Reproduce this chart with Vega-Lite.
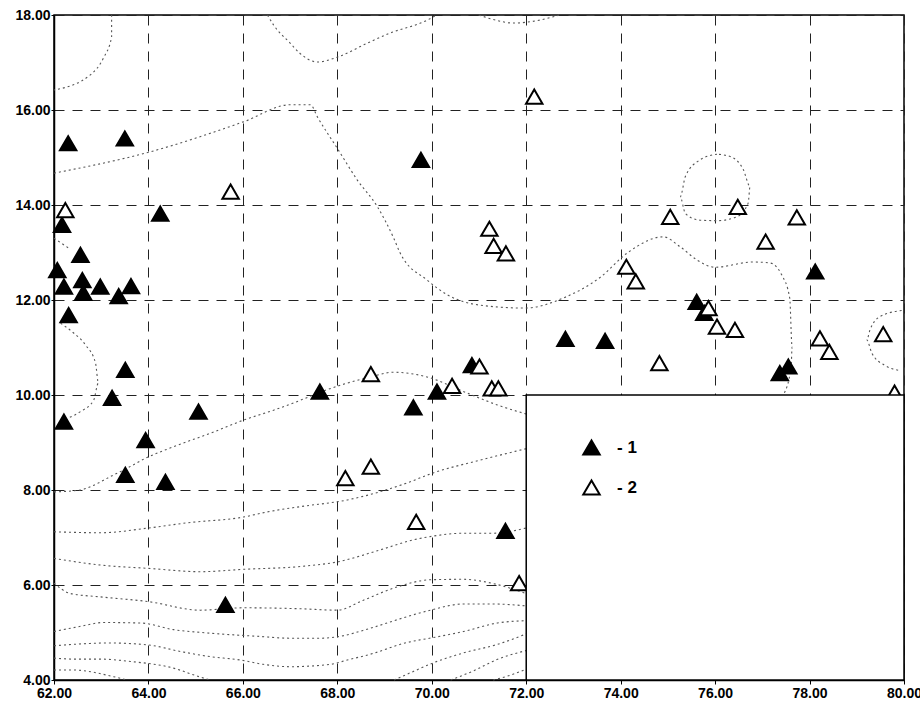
{
  "$schema": "https://vega.github.io/schema/vega-lite/v6.json",
  "width": 850,
  "height": 665,
  "autosize": "none",
  "padding": {"left": 54, "top": 15, "right": 16, "bottom": 21},
  "background": "white",
  "config": {
    "view": {"stroke": "black", "strokeWidth": 1.5},
    "axis": {
      "labelFont": "Liberation Sans",
      "labelFontSize": 14,
      "labelFontWeight": "bold",
      "labelColor": "black",
      "domainColor": "black",
      "domainWidth": 1.5,
      "tickColor": "black",
      "tickSize": 3,
      "grid": true,
      "gridColor": "#222",
      "gridDash": [10, 8],
      "gridWidth": 1,
      "gridOpacity": 1,
      "title": null,
      "labelFlush": false,
      "labelOverlap": false
    }
  },
  "datasets": {
    "pts": [
      {"x": 62.3, "y": 15.3, "s": "1"}, {"x": 63.5, "y": 15.4, "s": "1"}, {"x": 62.17, "y": 13.58, "s": "1"},
      {"x": 64.25, "y": 13.82, "s": "1"}, {"x": 62.56, "y": 12.95, "s": "1"}, {"x": 62.07, "y": 12.63, "s": "1"},
      {"x": 62.21, "y": 12.28, "s": "1"}, {"x": 62.6, "y": 12.42, "s": "1"}, {"x": 62.62, "y": 12.15, "s": "1"},
      {"x": 62.98, "y": 12.28, "s": "1"}, {"x": 63.37, "y": 12.08, "s": "1"}, {"x": 63.63, "y": 12.29, "s": "1"},
      {"x": 62.31, "y": 11.68, "s": "1"}, {"x": 63.51, "y": 10.53, "s": "1"}, {"x": 63.23, "y": 9.94, "s": "1"},
      {"x": 62.21, "y": 9.44, "s": "1"}, {"x": 65.06, "y": 9.65, "s": "1"}, {"x": 63.94, "y": 9.05, "s": "1"},
      {"x": 63.51, "y": 8.32, "s": "1"}, {"x": 64.36, "y": 8.17, "s": "1"}, {"x": 65.63, "y": 5.58, "s": "1"},
      {"x": 67.63, "y": 10.07, "s": "1"}, {"x": 69.61, "y": 9.74, "s": "1"}, {"x": 70.11, "y": 10.07, "s": "1"},
      {"x": 70.85, "y": 10.63, "s": "1"}, {"x": 72.83, "y": 11.18, "s": "1"}, {"x": 73.67, "y": 11.14, "s": "1"},
      {"x": 71.56, "y": 7.14, "s": "1"}, {"x": 69.77, "y": 14.95, "s": "1"}, {"x": 75.61, "y": 11.96, "s": "1"},
      {"x": 75.77, "y": 11.73, "s": "1"}, {"x": 78.12, "y": 12.6, "s": "1"}, {"x": 77.55, "y": 10.6, "s": "1"},
      {"x": 77.37, "y": 10.46, "s": "1"},
      {"x": 62.24, "y": 13.89, "s": "2"}, {"x": 65.74, "y": 14.28, "s": "2"}, {"x": 72.17, "y": 16.28, "s": "2"},
      {"x": 71.22, "y": 13.5, "s": "2"}, {"x": 71.31, "y": 13.14, "s": "2"}, {"x": 71.57, "y": 12.98, "s": "2"},
      {"x": 68.71, "y": 10.44, "s": "2"}, {"x": 70.43, "y": 10.19, "s": "2"}, {"x": 71.01, "y": 10.6, "s": "2"},
      {"x": 71.27, "y": 10.14, "s": "2"}, {"x": 71.41, "y": 10.14, "s": "2"}, {"x": 68.17, "y": 8.25, "s": "2"},
      {"x": 68.71, "y": 8.49, "s": "2"}, {"x": 69.67, "y": 7.33, "s": "2"}, {"x": 71.85, "y": 6.04, "s": "2"},
      {"x": 75.05, "y": 13.75, "s": "2"}, {"x": 76.48, "y": 13.96, "s": "2"}, {"x": 77.73, "y": 13.74, "s": "2"},
      {"x": 77.07, "y": 13.23, "s": "2"}, {"x": 74.12, "y": 12.7, "s": "2"}, {"x": 74.32, "y": 12.39, "s": "2"},
      {"x": 75.86, "y": 11.83, "s": "2"}, {"x": 76.04, "y": 11.44, "s": "2"}, {"x": 76.42, "y": 11.37, "s": "2"},
      {"x": 74.82, "y": 10.67, "s": "2"}, {"x": 78.22, "y": 11.19, "s": "2"}, {"x": 78.42, "y": 10.91, "s": "2"},
      {"x": 79.56, "y": 11.28, "s": "2"}, {"x": 79.8, "y": 10.05, "s": "2"}
    ],
    "iso": [
      {"c": "A", "i": 0, "x": 63.22, "y": 18}, {"c": "A", "i": 1, "x": 63.22, "y": 17.54}, {"c": "A", "i": 2, "x": 63.05, "y": 17.1}, {"c": "A", "i": 3, "x": 62.77, "y": 16.74}, {"c": "A", "i": 4, "x": 62.0, "y": 16.42},
      {"c": "B", "i": 0, "x": 62.0, "y": 14.67}, {"c": "B", "i": 1, "x": 64.04, "y": 15.12}, {"c": "B", "i": 2, "x": 66.01, "y": 15.75}, {"c": "B", "i": 3, "x": 67.0, "y": 16.11}, {"c": "B", "i": 4, "x": 67.43, "y": 16.11}, {"c": "B", "i": 5, "x": 67.58, "y": 15.85}, {"c": "B", "i": 6, "x": 68.02, "y": 15.16}, {"c": "B", "i": 7, "x": 68.42, "y": 14.53}, {"c": "B", "i": 8, "x": 68.85, "y": 13.96}, {"c": "B", "i": 9, "x": 69.19, "y": 13.31}, {"c": "B", "i": 10, "x": 69.33, "y": 12.99}, {"c": "B", "i": 11, "x": 69.9, "y": 12.42}, {"c": "B", "i": 12, "x": 70.33, "y": 12.11}, {"c": "B", "i": 13, "x": 71.03, "y": 11.89}, {"c": "B", "i": 14, "x": 71.98, "y": 11.83}, {"c": "B", "i": 15, "x": 72.78, "y": 12.04}, {"c": "B", "i": 16, "x": 73.57, "y": 12.48}, {"c": "B", "i": 17, "x": 74.14, "y": 12.99}, {"c": "B", "i": 18, "x": 74.9, "y": 13.33}, {"c": "B", "i": 19, "x": 75.26, "y": 13.12}, {"c": "B", "i": 20, "x": 75.62, "y": 12.84}, {"c": "B", "i": 21, "x": 76.0, "y": 12.69}, {"c": "B", "i": 22, "x": 76.8, "y": 12.8}, {"c": "B", "i": 23, "x": 77.16, "y": 12.78}, {"c": "B", "i": 24, "x": 77.41, "y": 12.53}, {"c": "B", "i": 25, "x": 77.58, "y": 12.04}, {"c": "B", "i": 26, "x": 77.63, "y": 11.01}, {"c": "B", "i": 27, "x": 77.61, "y": 10.59}, {"c": "B", "i": 28, "x": 77.44, "y": 10.0},
      {"c": "C", "i": 0, "x": 66.52, "y": 18}, {"c": "C", "i": 1, "x": 66.65, "y": 17.79}, {"c": "C", "i": 2, "x": 67.0, "y": 17.41}, {"c": "C", "i": 3, "x": 67.2, "y": 17.2}, {"c": "C", "i": 4, "x": 67.58, "y": 17.01}, {"c": "C", "i": 5, "x": 68.02, "y": 17.12}, {"c": "C", "i": 6, "x": 68.64, "y": 17.41}, {"c": "C", "i": 7, "x": 69.12, "y": 17.62}, {"c": "C", "i": 8, "x": 69.9, "y": 17.89}, {"c": "C", "i": 9, "x": 70.1, "y": 18},
      {"c": "C2", "i": 0, "x": 71.0, "y": 18}, {"c": "C2", "i": 1, "x": 71.4, "y": 17.88}, {"c": "C2", "i": 2, "x": 71.73, "y": 17.83}, {"c": "C2", "i": 3, "x": 72.1, "y": 17.86}, {"c": "C2", "i": 4, "x": 72.45, "y": 17.93}, {"c": "C2", "i": 5, "x": 72.7, "y": 18},
      {"c": "D", "i": 0, "x": 76.04, "y": 15.07}, {"c": "D", "i": 1, "x": 75.68, "y": 14.95}, {"c": "D", "i": 2, "x": 75.37, "y": 14.6}, {"c": "D", "i": 3, "x": 75.26, "y": 14.17}, {"c": "D", "i": 4, "x": 75.37, "y": 13.82}, {"c": "D", "i": 5, "x": 75.68, "y": 13.68}, {"c": "D", "i": 6, "x": 76.04, "y": 13.67}, {"c": "D", "i": 7, "x": 76.46, "y": 13.75}, {"c": "D", "i": 8, "x": 76.7, "y": 14.04}, {"c": "D", "i": 9, "x": 76.74, "y": 14.39}, {"c": "D", "i": 10, "x": 76.6, "y": 14.74}, {"c": "D", "i": 11, "x": 76.32, "y": 15.02}, {"c": "D", "i": 12, "x": 76.04, "y": 15.07},
      {"c": "E", "i": 0, "x": 79.95, "y": 11.78}, {"c": "E", "i": 1, "x": 79.49, "y": 11.65}, {"c": "E", "i": 2, "x": 79.28, "y": 11.37}, {"c": "E", "i": 3, "x": 79.21, "y": 11.16}, {"c": "E", "i": 4, "x": 79.32, "y": 10.88}, {"c": "E", "i": 5, "x": 79.6, "y": 10.62}, {"c": "E", "i": 6, "x": 79.88, "y": 10.52},
      {"c": "F1", "i": 0, "x": 62.0, "y": 13.3}, {"c": "F1", "i": 1, "x": 62.3, "y": 13.1},
      {"c": "F2", "i": 0, "x": 62.14, "y": 11.51}, {"c": "F2", "i": 1, "x": 62.41, "y": 11.31}, {"c": "F2", "i": 2, "x": 62.67, "y": 11.05}, {"c": "F2", "i": 3, "x": 62.88, "y": 10.67}, {"c": "F2", "i": 4, "x": 62.94, "y": 10.25}, {"c": "F2", "i": 5, "x": 62.84, "y": 9.89}, {"c": "F2", "i": 6, "x": 62.56, "y": 9.65}, {"c": "F2", "i": 7, "x": 62.31, "y": 9.52},
      {"c": "G", "i": 0, "x": 62.0, "y": 7.96}, {"c": "G", "i": 1, "x": 62.56, "y": 8.0}, {"c": "G", "i": 2, "x": 62.77, "y": 8.07}, {"c": "G", "i": 3, "x": 63.19, "y": 8.28}, {"c": "G", "i": 4, "x": 63.55, "y": 8.46}, {"c": "G", "i": 5, "x": 63.94, "y": 8.67}, {"c": "G", "i": 6, "x": 64.53, "y": 8.91}, {"c": "G", "i": 7, "x": 65.38, "y": 9.22}, {"c": "G", "i": 8, "x": 66.01, "y": 9.47}, {"c": "G", "i": 9, "x": 66.65, "y": 9.68}, {"c": "G", "i": 10, "x": 67.22, "y": 9.89}, {"c": "G", "i": 11, "x": 67.64, "y": 10.06}, {"c": "G", "i": 12, "x": 68.7, "y": 10.38}, {"c": "G", "i": 13, "x": 69.18, "y": 10.48}, {"c": "G", "i": 14, "x": 69.9, "y": 10.38}, {"c": "G", "i": 15, "x": 70.75, "y": 10.04}, {"c": "G", "i": 16, "x": 71.39, "y": 9.79}, {"c": "G", "i": 17, "x": 72.0, "y": 9.6},
      {"c": "H", "i": 0, "x": 62.0, "y": 7.12}, {"c": "H", "i": 1, "x": 63.0, "y": 7.1}, {"c": "H", "i": 2, "x": 64.0, "y": 7.2}, {"c": "H", "i": 3, "x": 64.83, "y": 7.31}, {"c": "H", "i": 4, "x": 66.01, "y": 7.43}, {"c": "H", "i": 5, "x": 66.52, "y": 7.54}, {"c": "H", "i": 6, "x": 67.22, "y": 7.65}, {"c": "H", "i": 7, "x": 68.21, "y": 7.79}, {"c": "H", "i": 8, "x": 69.48, "y": 8.15}, {"c": "H", "i": 9, "x": 70.03, "y": 8.36}, {"c": "H", "i": 10, "x": 71.03, "y": 8.63}, {"c": "H", "i": 11, "x": 72.0, "y": 8.87},
      {"c": "I", "i": 0, "x": 62.0, "y": 6.56}, {"c": "I", "i": 1, "x": 62.98, "y": 6.42}, {"c": "I", "i": 2, "x": 64.0, "y": 6.35}, {"c": "I", "i": 3, "x": 65.1, "y": 6.28}, {"c": "I", "i": 4, "x": 66.01, "y": 6.33}, {"c": "I", "i": 5, "x": 67.22, "y": 6.39}, {"c": "I", "i": 6, "x": 68.02, "y": 6.49}, {"c": "I", "i": 7, "x": 68.91, "y": 6.74}, {"c": "I", "i": 8, "x": 69.61, "y": 6.95}, {"c": "I", "i": 9, "x": 70.03, "y": 7.03}, {"c": "I", "i": 10, "x": 70.67, "y": 7.09}, {"c": "I", "i": 11, "x": 71.3, "y": 7.09}, {"c": "I", "i": 12, "x": 72.0, "y": 7.2},
      {"c": "J", "i": 0, "x": 62.0, "y": 6.04}, {"c": "J", "i": 1, "x": 62.35, "y": 5.82}, {"c": "J", "i": 2, "x": 62.98, "y": 5.75}, {"c": "J", "i": 3, "x": 64.0, "y": 5.65}, {"c": "J", "i": 4, "x": 65.1, "y": 5.47}, {"c": "J", "i": 5, "x": 66.01, "y": 5.52}, {"c": "J", "i": 6, "x": 67.22, "y": 5.5}, {"c": "J", "i": 7, "x": 68.0, "y": 5.47}, {"c": "J", "i": 8, "x": 68.55, "y": 5.68}, {"c": "J", "i": 9, "x": 69.27, "y": 5.96}, {"c": "J", "i": 10, "x": 69.97, "y": 6.11}, {"c": "J", "i": 11, "x": 70.67, "y": 6.12}, {"c": "J", "i": 12, "x": 71.3, "y": 6.03}, {"c": "J", "i": 13, "x": 72.0, "y": 5.82},
      {"c": "K", "i": 0, "x": 62.0, "y": 5.02}, {"c": "K", "i": 1, "x": 62.56, "y": 5.13}, {"c": "K", "i": 2, "x": 63.05, "y": 5.21}, {"c": "K", "i": 3, "x": 63.83, "y": 5.2}, {"c": "K", "i": 4, "x": 64.53, "y": 5.06}, {"c": "K", "i": 5, "x": 65.25, "y": 4.99}, {"c": "K", "i": 6, "x": 66.31, "y": 4.92}, {"c": "K", "i": 7, "x": 67.0, "y": 4.88}, {"c": "K", "i": 8, "x": 67.64, "y": 4.88}, {"c": "K", "i": 9, "x": 68.0, "y": 4.91}, {"c": "K", "i": 10, "x": 68.7, "y": 5.09}, {"c": "K", "i": 11, "x": 69.4, "y": 5.31}, {"c": "K", "i": 12, "x": 69.97, "y": 5.47}, {"c": "K", "i": 13, "x": 70.67, "y": 5.6}, {"c": "K", "i": 14, "x": 71.3, "y": 5.6}, {"c": "K", "i": 15, "x": 72.0, "y": 5.56},
      {"c": "L", "i": 0, "x": 62.0, "y": 4.72}, {"c": "L", "i": 1, "x": 62.77, "y": 4.77}, {"c": "L", "i": 2, "x": 63.13, "y": 4.78}, {"c": "L", "i": 3, "x": 63.98, "y": 4.74}, {"c": "L", "i": 4, "x": 64.68, "y": 4.6}, {"c": "L", "i": 5, "x": 65.25, "y": 4.5}, {"c": "L", "i": 6, "x": 65.95, "y": 4.42}, {"c": "L", "i": 7, "x": 66.43, "y": 4.33}, {"c": "L", "i": 8, "x": 67.0, "y": 4.28}, {"c": "L", "i": 9, "x": 67.85, "y": 4.33}, {"c": "L", "i": 10, "x": 68.21, "y": 4.42}, {"c": "L", "i": 11, "x": 68.76, "y": 4.56}, {"c": "L", "i": 12, "x": 69.4, "y": 4.77}, {"c": "L", "i": 13, "x": 70.12, "y": 4.91}, {"c": "L", "i": 14, "x": 70.67, "y": 5.02}, {"c": "L", "i": 15, "x": 71.39, "y": 5.2}, {"c": "L", "i": 16, "x": 72.0, "y": 5.25},
      {"c": "M", "i": 0, "x": 62.0, "y": 4.46}, {"c": "M", "i": 1, "x": 62.41, "y": 4.44}, {"c": "M", "i": 2, "x": 62.98, "y": 4.44}, {"c": "M", "i": 3, "x": 63.62, "y": 4.39}, {"c": "M", "i": 4, "x": 64.53, "y": 4.25}, {"c": "M", "i": 5, "x": 65.04, "y": 4.08}, {"c": "M", "i": 6, "x": 65.3, "y": 4.0},
      {"c": "N", "i": 0, "x": 62.0, "y": 4.21}, {"c": "N", "i": 1, "x": 62.41, "y": 4.21}, {"c": "N", "i": 2, "x": 63.26, "y": 4.07}, {"c": "N", "i": 3, "x": 63.55, "y": 4.0},
      {"c": "M2", "i": 0, "x": 69.2, "y": 4.0}, {"c": "M2", "i": 1, "x": 69.61, "y": 4.18}, {"c": "M2", "i": 2, "x": 70.03, "y": 4.36}, {"c": "M2", "i": 3, "x": 70.67, "y": 4.57}, {"c": "M2", "i": 4, "x": 71.39, "y": 4.75}, {"c": "M2", "i": 5, "x": 72.0, "y": 4.97},
      {"c": "N2", "i": 0, "x": 70.4, "y": 4.0}, {"c": "N2", "i": 1, "x": 70.9, "y": 4.2}, {"c": "N2", "i": 2, "x": 71.38, "y": 4.43}, {"c": "N2", "i": 3, "x": 72.0, "y": 4.62},
      {"c": "O2", "i": 0, "x": 71.3, "y": 4.0}, {"c": "O2", "i": 1, "x": 71.6, "y": 4.08}, {"c": "O2", "i": 2, "x": 72.0, "y": 4.23}
    ],
    "box": [{"x": 72, "x2": 80, "y": 4, "y2": 10}]
  },
  "layer": [
    {
      "data": {"name": "iso"},
      "mark": {"type": "line", "color": "#555", "strokeWidth": 1.1, "strokeDash": [2, 3], "interpolate": "monotone"},
      "encoding": {
        "x": {"field": "x", "type": "quantitative", "scale": {"domain": [62, 80], "nice": false, "zero": false},
              "axis": {"values": [62, 64, 66, 68, 70, 72, 74, 76, 78, 80], "format": ".2f", "labelPadding": 2, "tickSize": 4}},
        "y": {"field": "y", "type": "quantitative", "scale": {"domain": [4, 18], "nice": false, "zero": false},
              "axis": {"values": [4, 6, 8, 10, 12, 14, 16, 18], "format": ".2f", "labelPadding": 1}},
        "detail": {"field": "c"},
        "order": {"field": "i", "type": "quantitative"}
      }
    },
    {
      "data": {"name": "pts"},
      "mark": {"type": "point", "shape": "triangle-up", "size": 270, "stroke": "black", "strokeWidth": 2, "filled": true, "opacity": 1},
      "encoding": {
        "x": {"field": "x", "type": "quantitative"},
        "y": {"field": "y", "type": "quantitative"},
        "fill": {"field": "s", "type": "nominal", "scale": {"domain": ["1", "2"], "range": ["black", "white"]},
                 "legend": {"orient": "none", "legendX": 528, "legendY": 423, "title": null, "symbolType": "triangle-up", "symbolSize": 270, "symbolStrokeColor": "black", "symbolStrokeWidth": 2, "labelExpr": "'- ' + datum.label", "labelFont": "Liberation Sans", "labelFontSize": 17, "labelFontWeight": "bold", "labelColor": "black", "labelOffset": 16, "rowPadding": 17}}
      }
    },
    {
      "data": {"name": "box"},
      "mark": {"type": "rect", "fill": "white", "stroke": "black", "strokeWidth": 1.5},
      "encoding": {
        "x": {"field": "x", "type": "quantitative"},
        "x2": {"field": "x2"},
        "y": {"field": "y", "type": "quantitative"},
        "y2": {"field": "y2"}
      }
    }
  ]
}
